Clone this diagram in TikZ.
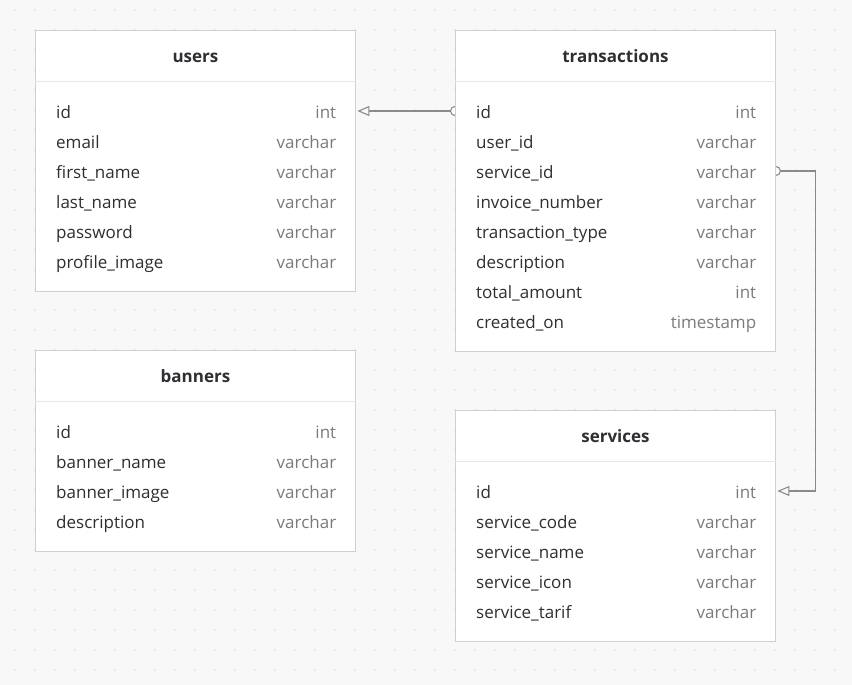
\documentclass[tikz,border=0pt]{standalone}
\usepackage{fontspec}
\setmainfont{Open Sans}
\usetikzlibrary{arrows.meta}
\definecolor{bgcol}{HTML}{F8F8F9}
\definecolor{dotcol}{HTML}{D9D9DC}
\definecolor{boxline}{HTML}{CFD0D4}
\definecolor{sepcol}{HTML}{E6E6E8}
\definecolor{namecol}{HTML}{2E2E33}
\definecolor{typecol}{HTML}{7A7A80}
\definecolor{conncol}{HTML}{8A8A90}
\pgfdeclarelayer{bg}
\pgfdeclarelayer{links}
\pgfsetlayers{bg,links,main}
\tikzset{
  tablebox/.style={draw=boxline, line width=0.9pt, fill=white, minimum width=320pt, inner sep=0pt, anchor=north west},
  sepline/.style={draw=sepcol, line width=0.8pt},
  titletext/.style={font=\fontsize{17}{19}\selectfont\bfseries, text=namecol, inner sep=0pt, anchor=base},
  fieldtext/.style={font=\fontsize{17}{19}\selectfont, text=namecol, inner sep=0pt, anchor=base west},
  typetext/.style={font=\fontsize{17}{19}\selectfont, text=typecol, inner sep=0pt, anchor=base east},
  relline/.style={draw=conncol, line width=1.1pt},
  reltip/.style={-{Triangle[open, length=12pt, width=10pt, line width=1.1pt]}, shorten >=1.5pt},
}
\newcommand\ertab[6]{%
  \node[tablebox, minimum height={(81+30*#4)*1pt}] (#1) at (#2,#3) {};
  \draw[sepline] ([yshift=-51pt]#1.north west) -- ([yshift=-51pt]#1.north east);
  \node[titletext] (#1-title) at ([yshift=-32.5pt]#1.north) {#5};
  \foreach \f/\t [count=\i] in {#6} {
    \node[fieldtext] (#1-f\i) at ([xshift=21pt, yshift={-(58+30*\i)*1pt}]#1.north west) {\f};
    \node[typetext] (#1-t\i) at ([xshift=-19.5pt, yshift={-(58+30*\i)*1pt}]#1.north east) {\t};
  }
}
\begin{document}
\begin{tikzpicture}[x=1pt,y=-1pt]
\begin{pgfonlayer}{bg}
  \fill[bgcol] (0,0) rectangle (852,685);
  \foreach \x in {15,35,...,845} {
    \foreach \y in {10,30,...,680} {
      \fill[dotcol] (\x,\y) circle (0.9pt);
    }
  }
\end{pgfonlayer}
\useasboundingbox (0,0) rectangle (852,685);

\ertab{users}{35}{30}{6}{users}{id/int, email/varchar, first\_name/varchar, last\_name/varchar, password/varchar, profile\_image/varchar}
\ertab{transactions}{455}{30}{8}{transactions}{id/int, user\_id/varchar, service\_id/varchar, invoice\_number/varchar, transaction\_type/varchar, description/varchar, total\_amount/int, created\_on/timestamp}
\ertab{banners}{35}{350}{4}{banners}{id/int, banner\_name/varchar, banner\_image/varchar, description/varchar}
\ertab{services}{455}{410}{5}{services}{id/int, service\_code/varchar, service\_name/varchar, service\_icon/varchar, service\_tarif/varchar}

\begin{pgfonlayer}{links}
  \coordinate (r1s) at ([yshift=-81pt]transactions.north west);
  \coordinate (r1e) at ([yshift=-81pt]users.north east);
  \draw[relline, reltip] (r1s) -- (r1e);
  \draw[relline, fill=white] (r1s) circle (4.5pt);
  \coordinate (r2s) at ([yshift=-141pt]transactions.north east);
  \coordinate (r2e) at ([yshift=-81pt]services.north east);
  \coordinate (r2m) at ([xshift=40pt]r2s);
  \draw[relline, reltip] (r2s) -- (r2m) |- (r2e);
  \draw[relline, fill=white] (r2s) circle (4.5pt);
\end{pgfonlayer}
\end{tikzpicture}
\end{document}
